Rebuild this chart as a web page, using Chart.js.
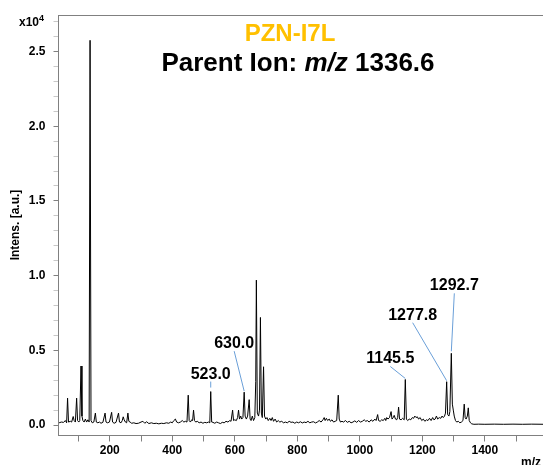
<!DOCTYPE html>
<html>
<head>
<meta charset="utf-8">
<script src="https://cdn.jsdelivr.net/npm/chart.js@4/dist/chart.umd.min.js"></script>
<style>
  html, body { margin: 0; padding: 0; background: #fff; }
  #wrap { width: 543px; height: 465px; }
</style>
</head>
<body>
<div id="wrap"><canvas id="msChart" width="543" height="465"></canvas></div>
<script>
// MS/MS spectrum profile, intensity in units of 10^4
const mzValues = [
  38, 45, 52, 58, 62, 65, 68, 74, 78, 83, 86, 90, 94, 97, 101, 104, 108, 111, 114, 118,
  122, 126, 130, 134, 137, 140, 144, 149, 154, 157, 162, 167, 172, 178, 185, 188, 193, 199, 206, 209,
  214, 220, 228, 231, 236, 240, 243, 246, 250, 254, 258, 261, 265, 270, 277, 284, 292, 300, 306, 312,
  318, 325, 333, 341, 349, 357, 365, 373, 381, 389, 395, 400, 405, 410, 414, 420, 426, 432, 437, 442,
  447, 451, 454, 458, 462, 465, 468, 471, 475, 480, 486, 492, 498, 504, 510, 516, 520, 523, 526, 530,
  536, 542, 548, 554, 560, 566, 572, 578, 584, 588, 593, 596, 600, 605, 609, 612, 615, 619, 622, 626,
  630, 633, 637, 641, 646, 649, 652, 656, 660, 664, 667, 669, 672, 676, 679, 682, 685, 688, 692, 695,
  699, 703, 707, 712, 716, 720, 724, 729, 734, 739, 744, 750, 756, 762, 768, 774, 780, 786, 792, 798,
  804, 810, 816, 822, 828, 834, 840, 846, 852, 858, 864, 870, 876, 882, 886, 889, 893, 897, 902, 906,
  911, 916, 921, 926, 931, 934, 938, 943, 948, 954, 960, 966, 972, 978, 984, 990, 996, 1002, 1008, 1014,
  1019, 1024, 1030, 1036, 1042, 1048, 1052, 1057, 1060, 1065, 1070, 1075, 1080, 1083, 1086, 1090, 1095, 1100, 1103, 1107,
  1110, 1114, 1118, 1121, 1124, 1127, 1132, 1137, 1142, 1145.5, 1149, 1153, 1158, 1163, 1168, 1172, 1176, 1180, 1184, 1188,
  1193, 1198, 1203, 1208, 1213, 1218, 1223, 1228, 1233, 1237, 1241, 1245, 1249, 1254, 1259, 1263, 1267, 1271, 1274, 1277.8,
  1281, 1285, 1288, 1292.7, 1296, 1299, 1302, 1306, 1310, 1315, 1320, 1325, 1330, 1334, 1337, 1340, 1344, 1347, 1350, 1354,
  1358, 1365, 1380, 1400, 1430, 1460, 1490, 1520, 1550, 1590
];
const intensityValues = [
  0.015, 0.02, 0.018, 0.03, 0.015, 0.18, 0.02, 0.025, 0.02, 0.057, 0.03, 0.02, 0.18, 0.03, 0.02, 0.03, 0.395, 0.06, 0.03, 0.02,
  0.04, 0.02, 0.035, 0.02, 2.575, 0.03, 0.015, 0.02, 0.08, 0.02, 0.015, 0.02, 0.012, 0.018, 0.08, 0.02, 0.015, 0.02, 0.085, 0.02,
  0.012, 0.018, 0.08, 0.02, 0.015, 0.03, 0.055, 0.035, 0.02, 0.015, 0.08, 0.025, 0.02, 0.012, 0.015, 0.01, 0.012, 0.02, 0.025, 0.012,
  0.022, 0.01, 0.015, 0.01, 0.012, 0.008, 0.012, 0.01, 0.015, 0.012, 0.02, 0.015, 0.03, 0.04, 0.02, 0.015, 0.02, 0.03, 0.02, 0.025,
  0.02, 0.2, 0.03, 0.02, 0.035, 0.03, 0.1, 0.03, 0.02, 0.025, 0.015, 0.02, 0.012, 0.018, 0.015, 0.02, 0.015, 0.224, 0.02, 0.018,
  0.012, 0.02, 0.015, 0.01, 0.018, 0.015, 0.025, 0.02, 0.03, 0.025, 0.1, 0.03, 0.035, 0.03, 0.05, 0.1, 0.04, 0.06, 0.04, 0.05,
  0.22, 0.06, 0.04, 0.06, 0.17, 0.04, 0.03, 0.06, 0.03, 0.05, 0.29, 0.97, 0.08, 0.06, 0.1, 0.72, 0.08, 0.05, 0.39, 0.06,
  0.04, 0.05, 0.03, 0.045, 0.03, 0.05, 0.025, 0.04, 0.02, 0.03, 0.02, 0.025, 0.015, 0.02, 0.015, 0.025, 0.018, 0.02, 0.012, 0.02,
  0.015, 0.022, 0.014, 0.02, 0.016, 0.025, 0.015, 0.02, 0.022, 0.014, 0.02, 0.03, 0.02, 0.035, 0.05, 0.03, 0.045, 0.03, 0.04, 0.025,
  0.035, 0.02, 0.025, 0.03, 0.2, 0.04, 0.02, 0.025, 0.02, 0.03, 0.018, 0.025, 0.015, 0.02, 0.028, 0.018, 0.03, 0.02, 0.025, 0.035,
  0.025, 0.03, 0.02, 0.035, 0.025, 0.04, 0.03, 0.07, 0.03, 0.025, 0.035, 0.03, 0.045, 0.03, 0.05, 0.04, 0.05, 0.09, 0.04, 0.05,
  0.065, 0.04, 0.035, 0.05, 0.12, 0.04, 0.035, 0.045, 0.035, 0.305, 0.04, 0.03, 0.04, 0.035, 0.05, 0.045, 0.06, 0.05, 0.055, 0.04,
  0.05, 0.03, 0.04, 0.025, 0.035, 0.03, 0.045, 0.03, 0.05, 0.035, 0.04, 0.06, 0.04, 0.05, 0.045, 0.06, 0.05, 0.06, 0.08, 0.29,
  0.07, 0.06, 0.09, 0.48, 0.14, 0.1, 0.06, 0.03, 0.02, 0.025, 0.015, 0.02, 0.03, 0.14, 0.05, 0.04, 0.06, 0.115, 0.03, 0.015,
  0.008, 0.005, 0.006, 0.005, 0.006, 0.005, 0.006, 0.005, 0.006, 0.005
];

// axis ticks
const xTickValues = [100, 200, 300, 400, 500, 600, 700, 800, 900, 1000, 1100, 1200, 1300, 1400, 1500];
const xTickLabels = ['', '200', '', '400', '', '600', '', '800', '', '1000', '', '1200', '', '1400', ''];
const yTickValues = [0, 0.1, 0.2, 0.3, 0.4, 0.5, 0.6, 0.7, 0.8, 0.9, 1.0, 1.1, 1.2, 1.3, 1.4,
                     1.5, 1.6, 1.7, 1.8, 1.9, 2.0, 2.1, 2.2, 2.3, 2.4, 2.5, 2.6, 2.7];
const yLabelValues = [0, 0.5, 1.0, 1.5, 2.0, 2.5];
const yLabelText = ['0.0', '0.5', '1.0', '1.5', '2.0', '2.5'];

// annotated peaks
const peakLabels = ['523.0', '630.0', '1145.5', '1277.8', '1292.7'];
const peakMz = [523, 630, 1145.5, 1277.8, 1292.7];
const peakHeight = [0.224, 0.22, 0.305, 0.29, 0.48];

const FONT = '"Liberation Sans", Arial, sans-serif';
const AXIS_GRAY = '#808080';

const spectrum = mzValues.map((m, i) => ({ x: m, y: intensityValues[i] }));

// leader line offsets from each peak top (px): [gap, dx, dy]
const leaderOffsets = [
  [4, 0, -10],
  [1, -10, -41],
  [1, -15, -13],
  [1, -34, -59],
  [2, 3, -60]
];

const decorations = {
  id: 'decorations',
  afterDraw(chart) {
    const { ctx, chartArea, scales } = chart;
    const x = scales.x, y = scales.y;
    ctx.save();

    // top frame line
    ctx.strokeStyle = AXIS_GRAY;
    ctx.lineWidth = 1;
    ctx.beginPath();
    ctx.moveTo(chartArea.left, Math.round(chartArea.top) + 0.5);
    ctx.lineTo(chartArea.right, Math.round(chartArea.top) + 0.5);
    ctx.stroke();

    // titles
    ctx.textAlign = 'center';
    ctx.textBaseline = 'alphabetic';
    ctx.fillStyle = '#FFC000';
    ctx.font = 'bold 24px ' + FONT;
    ctx.fillText('PZN-I7L', 290, 41);

    const parts = [
      ['Parent Ion: ', 'bold 26px ' + FONT],
      ['m/z', 'italic bold 26px ' + FONT],
      [' 1336.6', 'bold 26px ' + FONT]
    ];
    let total = 0;
    parts.forEach(p => { ctx.font = p[1]; total += ctx.measureText(p[0]).width; });
    let tx = 298 - total / 2;
    ctx.textAlign = 'left';
    ctx.fillStyle = '#000';
    parts.forEach(p => {
      ctx.font = p[1];
      ctx.fillText(p[0], tx, 70.5);
      tx += ctx.measureText(p[0]).width;
    });

    // exponent label
    ctx.font = 'bold 12px ' + FONT;
    ctx.fillText('x10', 19, 26);
    const w = ctx.measureText('x10').width;
    ctx.font = 'bold 9px ' + FONT;
    ctx.fillText('4', 19 + w, 21);

    // axis titles
    ctx.font = 'bold 12px ' + FONT;
    ctx.textBaseline = 'top';
    ctx.fillText('m/z', 521, 457);

    ctx.save();
    ctx.translate(15.5, 225);
    ctx.rotate(-Math.PI / 2);
    ctx.textAlign = 'center';
    ctx.textBaseline = 'middle';
    ctx.fillText('Intens. [a.u.]', 0, 0);
    ctx.restore();

    // peak annotations
    ctx.strokeStyle = '#6a9fd8';
    ctx.lineWidth = 1;
    ctx.fillStyle = '#000';
    ctx.font = 'bold 16px ' + FONT;
    ctx.textAlign = 'center';
    ctx.textBaseline = 'alphabetic';
    peakLabels.forEach((label, i) => {
      const px = x.getPixelForValue(peakMz[i]);
      const py = y.getPixelForValue(peakHeight[i]);
      const [gap, dx, dy] = leaderOffsets[i];
      ctx.beginPath();
      ctx.moveTo(px, py - gap);
      ctx.lineTo(px + dx, py + dy);
      ctx.stroke();
      ctx.fillText(label, px + dx, py + dy - 3);
    });

    ctx.restore();
  }
};

new Chart(document.getElementById('msChart'), {
  type: 'line',
  data: {
    datasets: [{
      data: spectrum,
      borderColor: '#000',
      borderWidth: 1,
      pointRadius: 0,
      tension: 0,
      fill: false
    }]
  },
  options: {
    responsive: false,
    animation: false,
    devicePixelRatio: 1,
    layout: { padding: { left: 0, right: 0, top: 13.5, bottom: 0 } },
    plugins: { legend: { display: false }, tooltip: { enabled: false } },
    scales: {
      x: {
        type: 'linear',
        min: 36,
        max: 1586,
        afterBuildTicks: s => { s.ticks = xTickValues.map(v => ({ value: v })); },
        afterFit: s => { s.height = 29.5; },
        border: { color: AXIS_GRAY, width: 1 },
        grid: {
          drawOnChartArea: false,
          drawTicks: true,
          tickLength: 6,
          color: AXIS_GRAY
        },
        ticks: {
          autoSkip: false,
          maxRotation: 0,
          padding: 2,
          color: '#000',
          font: { family: FONT, size: 12, weight: 'bold' },
          callback: (v, i) => xTickLabels[i]
        }
      },
      y: {
        type: 'linear',
        min: -0.07,
        max: 2.743,
        afterBuildTicks: s => { s.ticks = yTickValues.map(v => ({ value: v })); },
        afterFit: s => { s.width = 58.5; },
        border: { color: AXIS_GRAY, width: 1 },
        grid: {
          drawOnChartArea: false,
          drawTicks: true,
          tickLength: 5,
          color: c => yLabelValues.some(v => Math.abs(v - c.tick.value) < 1e-6) ? AXIS_GRAY : '#c8c8c8'
        },
        ticks: {
          autoSkip: false,
          padding: 8,
          color: '#000',
          font: { family: FONT, size: 12, weight: 'bold' },
          callback: v => {
            const k = yLabelValues.findIndex(t => Math.abs(t - v) < 1e-6);
            return k >= 0 ? yLabelText[k] : '';
          }
        }
      }
    }
  },
  plugins: [decorations]
});
</script>
</body>
</html>
